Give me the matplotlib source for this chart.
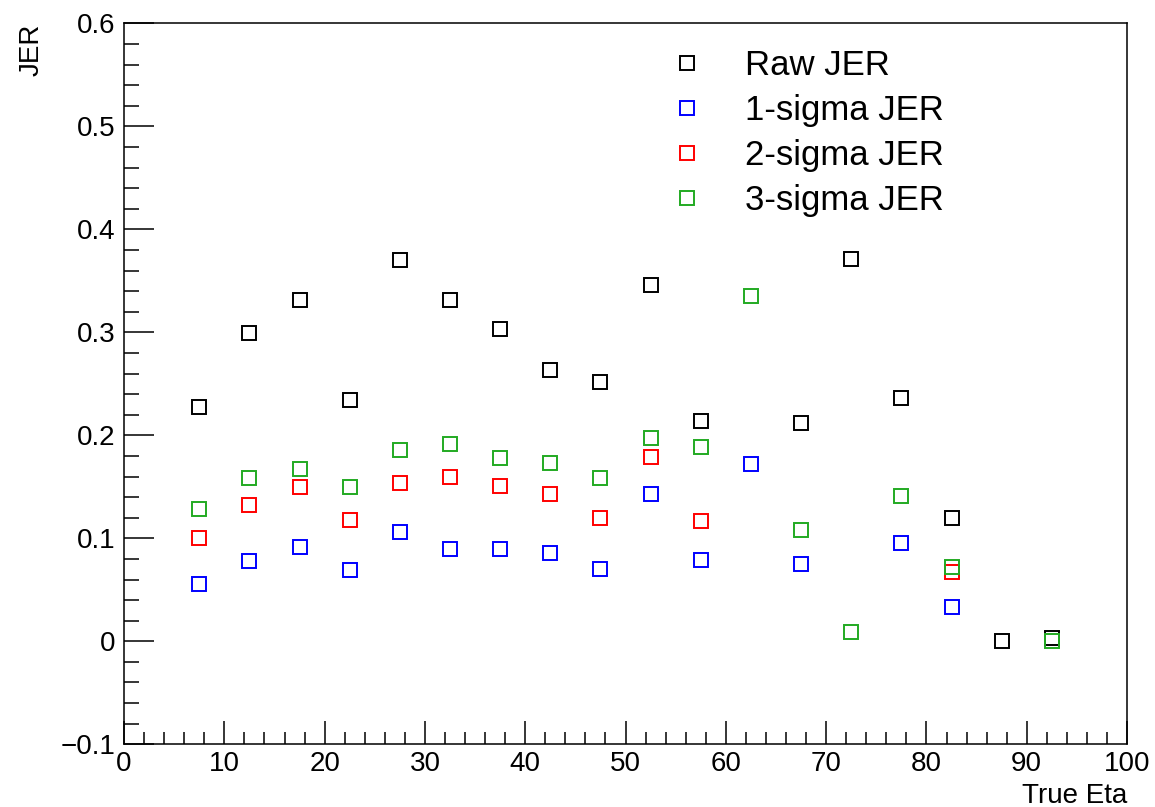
import numpy as np
import matplotlib
matplotlib.use('Agg')
import matplotlib.pyplot as plt
from matplotlib.ticker import MultipleLocator

plt.rcParams['font.family'] = ['Liberation Sans', 'DejaVu Sans']

# bin centres of true eta
eta = [7.5, 12.5, 17.5, 22.5, 27.5, 32.5, 37.5, 42.5, 47.5,
       52.5, 57.5, 62.5, 67.5, 72.5, 77.5, 82.5, 87.5, 92.5]

# NaN = no point drawn in that bin
raw_jer = [0.227, 0.299, 0.331, 0.234, 0.370, 0.331, 0.303, 0.263, 0.252,
           0.346, 0.214, np.nan, 0.212, 0.371, 0.236, 0.120, 0.000, 0.003]
sig1_jer = [0.056, 0.078, 0.092, 0.069, 0.106, 0.090, 0.090, 0.086, 0.070,
            0.143, 0.079, 0.172, 0.075, np.nan, 0.095, 0.033, np.nan, np.nan]
sig2_jer = [0.100, 0.132, 0.150, 0.118, 0.154, 0.160, 0.151, 0.143, 0.120,
            0.179, 0.117, np.nan, np.nan, np.nan, np.nan, 0.067, np.nan, np.nan]
sig3_jer = [0.128, 0.159, 0.167, 0.150, 0.186, 0.192, 0.178, 0.173, 0.159,
            0.197, 0.189, 0.335, 0.108, 0.009, 0.141, 0.072, np.nan, 0.000]

series = [
    ('Raw JER', raw_jer, 'black'),
    ('1-sigma JER', sig1_jer, '#0000ff'),
    ('2-sigma JER', sig2_jer, '#ff0000'),
    ('3-sigma JER', sig3_jer, '#22aa22'),
]

fig = plt.figure(figsize=(11.55, 8.07), dpi=100)
ax = fig.add_axes([0.1074, 0.0777, 0.8684, 0.8934])

for name, vals, col in series:
    ax.plot(eta, vals, linestyle='none', marker='s', markersize=10,
            markerfacecolor='none', markeredgecolor=col, markeredgewidth=1.4,
            label=name)

ax.set_xlim(0, 100)
ax.set_ylim(-0.1, 0.6)
ax.xaxis.set_major_locator(MultipleLocator(10))
ax.xaxis.set_minor_locator(MultipleLocator(2))
ax.yaxis.set_major_locator(MultipleLocator(0.1))
ax.yaxis.set_minor_locator(MultipleLocator(0.02))
ax.yaxis.set_major_formatter(plt.FuncFormatter(
    lambda v, p: '\u22120.1' if v < -0.05 else ('0' if abs(v) < 1e-9 else '%g' % v)))

ax.tick_params(axis='both', which='both', direction='in', top=False, right=False,
               labelsize=20, width=1.1, colors='black')
ax.tick_params(axis='y', which='major', length=21.5, pad=6)
ax.tick_params(axis='y', which='minor', length=10.8)
ax.tick_params(axis='x', which='major', length=16.3, pad=5)
ax.tick_params(axis='x', which='minor', length=8.6)
for sp in ax.spines.values():
    sp.set_linewidth(1.1)

ax.set_xlabel('True Eta', fontsize=20, loc='right', labelpad=4)
ax.set_ylabel('JER', fontsize=20, loc='top', labelpad=12)

ax.legend(loc='upper left', bbox_to_anchor=(0.513, 1.008), frameon=False,
          fontsize=25, handletextpad=1.17, labelspacing=0.35, handlelength=1.0,
          markerscale=1.0)

fig.savefig('out.png', dpi=100)
